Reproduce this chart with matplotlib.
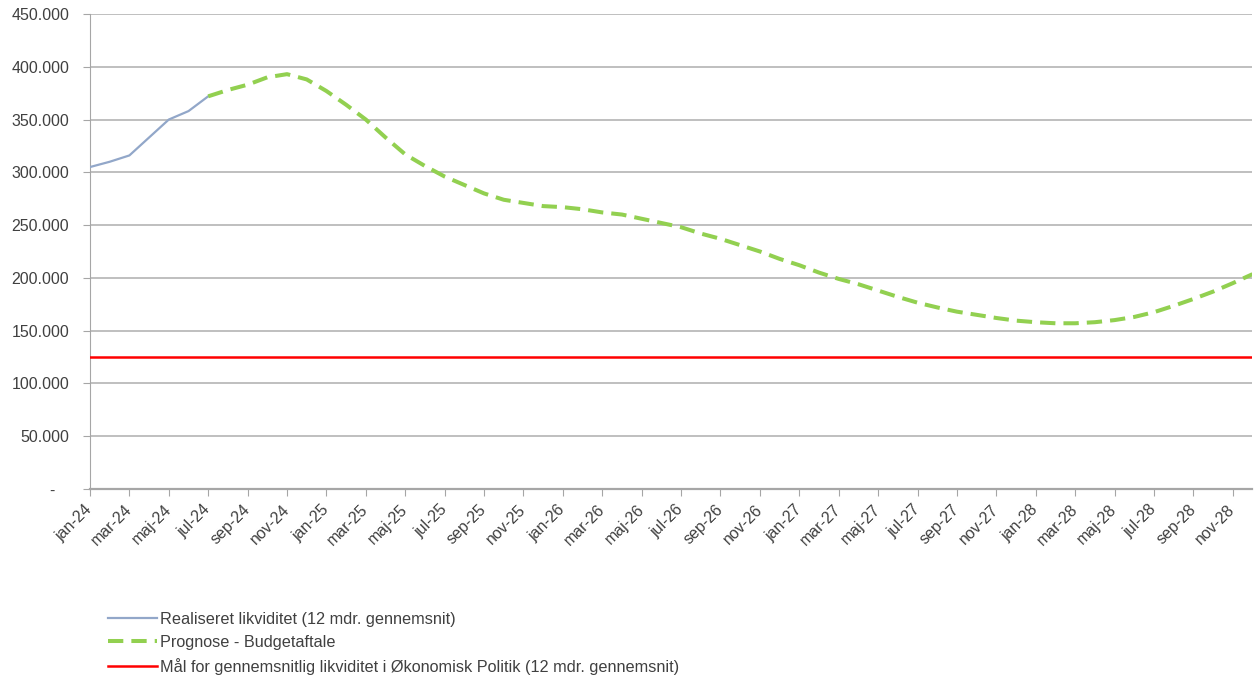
import matplotlib
matplotlib.use("Agg")
import matplotlib.pyplot as plt
from matplotlib.ticker import FuncFormatter

plt.rcParams["font.family"] = ["Liberation Sans", "DejaVu Sans"]

month_names = ["jan", "feb", "mar", "apr", "maj", "jun",
               "jul", "aug", "sep", "okt", "nov", "dec"]
years = [24, 25, 26, 27, 28]
months = [f"{m}-{y}" for y in years for m in month_names]

# realiseret likviditet, jan-24 .. jul-24 (1.000 kr.)
realized = [305000, 310000, 316000, 333000, 350000, 358000, 372000]

# prognose, jul-24 .. dec-28
forecast = [372000, 378000, 383000, 390000, 393000, 388000,
            377000, 364000, 350000, 333000, 317000, 306000,
            296000, 288000, 280000, 274000, 271000, 268000,
            267000, 265000, 262000, 260000, 256000, 252000,
            248000, 242000, 237000, 231000, 225000, 218000,
            212000, 205000, 199000, 194000, 188000, 182000,
            176500, 172000, 168000, 165000, 162000, 159500,
            158000, 157000, 157000, 158000, 160000, 163000,
            167500, 173500, 180000, 187000, 195000, 203500]

target = 125000

x_all = list(range(len(months)))
x_real = x_all[:len(realized)]
x_fc = x_all[len(realized) - 1:]

fig = plt.figure(figsize=(12.55, 6.82), dpi=100)
ax = fig.add_axes([0.0717, 0.283, 0.9263, 0.6965])

ax.plot(x_real, realized, color="#92a7c9", lw=1.6,
        label="Realiseret likviditet (12 mdr. gennemsnit)", zorder=3)
ax.plot(x_fc, forecast, color="#92d050", lw=2.9, dashes=(3.8, 2.0),
        label="Prognose - Budgetaftale", zorder=4)
ax.plot(x_all, [target] * len(x_all), color="#ff0000", lw=1.8,
        label="Mål for gennemsnitlig likviditet i Økonomisk Politik (12 mdr. gennemsnit)",
        zorder=3)

ax.set_xlim(0, len(months) - 1)
ax.set_ylim(0, 450000)
ax.set_yticks(range(0, 450001, 50000))
ax.yaxis.set_major_formatter(FuncFormatter(
    lambda v, p: "-   " if v == 0 else f"{int(v):,}".replace(",", ".")))

ax.set_xticks(x_all[::2])
ax.set_xticklabels(months[::2], rotation=45, ha="right", va="center",
                   rotation_mode="anchor")

ax.grid(axis="y", color="#b4b4b4", lw=1.2)
ax.set_axisbelow(True)
for side in ["top", "right"]:
    ax.spines[side].set_visible(False)
ax.spines["left"].set_color("#a6a6a6")
ax.spines["bottom"].set_color("#a6a6a6")
ax.spines["bottom"].set_linewidth(1.6)
ax.tick_params(axis="both", colors="#a6a6a6", labelcolor="#404040",
               labelsize=11.5, length=5)
ax.tick_params(axis="y", pad=10)
ax.tick_params(axis="x", pad=8)

leg = fig.legend(loc="upper left", bbox_to_anchor=(0.086, 0.103),
                 frameon=False, fontsize=11.7, handlelength=3.0,
                 handletextpad=0.2, labelspacing=0.5,
                 borderaxespad=0, borderpad=0)
for t in leg.get_texts():
    t.set_color("#404040")

fig.savefig("out.png", dpi=100)
